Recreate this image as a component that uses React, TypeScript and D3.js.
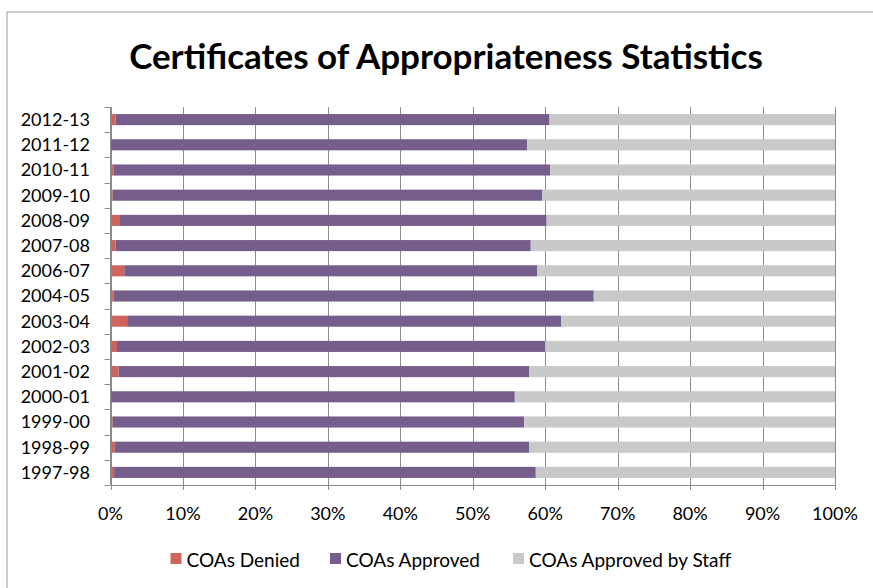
import React from "react";
import * as d3 from "d3";

const categories = [
  "2012-13", "2011-12", "2010-11", "2009-10", "2008-09", "2007-08", "2006-07",
  "2004-05", "2003-04", "2002-03", "2001-02", "2000-01", "1999-00", "1998-99", "1997-98",
];
const denied = [0.7, 0.1, 0.4, 0.3, 1.2, 0.7, 1.9, 0.4, 2.3, 0.9, 1.1, 0.1, 0.3, 0.6, 0.5];
const approved = [59.9, 57.4, 60.3, 59.3, 59.0, 57.3, 57.0, 66.3, 59.9, 59.1, 56.7, 55.7, 56.8, 57.2, 58.2];
const approvedByStaff = approved.map((a, i) => +(100 - a - denied[i]).toFixed(1));
const xTicks = [0, 10, 20, 30, 40, 50, 60, 70, 80, 90, 100];
const seriesNames = ["COAs Denied", "COAs Approved", "COAs Approved by Staff"];
const colors = ["#d0645c", "#755d8c", "#c9c9c9"];

const W = 873, H = 588;
const left = 110.5, right = 835, top = 107, bottom = 485;
const FONT = "Lato, 'Open Sans', sans-serif";

export default function App() {
  const x = d3.scaleLinear().domain([0, 100]).range([left, right]);
  const y = d3.scaleBand<string>().domain(categories).range([top, bottom]).paddingInner(0.56).paddingOuter(0.28);
  const step = y.step();
  const rows = categories.map((c, i) => ({ c, 0: denied[i], 1: approved[i], 2: approvedByStaff[i] }));
  const stack = d3.stack<any>().keys(["0", "1", "2"])(rows);
  const legendX = [170.5, 330, 513];

  return (
    <svg width={W} height={H} style={{ position: "absolute", left: 0, top: 0, background: "#fff" }} fontFamily={FONT}>
      <rect x={7} y={12} width={W} height={H} fill="#fff" stroke="#9a9a9a" strokeWidth={1} />
      <text x={446} y={69} textAnchor="middle" fontSize={35} fontWeight="bold" fill="#000">
        Certificates of Appropriateness Statistics
      </text>
      {/* gridlines */}
      {xTicks.map((t) => (
        <line key={"g" + t} x1={Math.round(x(t)) + 0.5} x2={Math.round(x(t)) + 0.5} y1={top} y2={bottom + 5} stroke="#8c8c8c" strokeWidth={1} />
      ))}
      {/* bars */}
      {stack.map((s, si) =>
        s.map((d, i) => (
          <rect
            key={si + "-" + i}
            x={x(d[0])}
            y={y(categories[i])!}
            width={Math.max(0, x(d[1]) - x(d[0]))}
            height={y.bandwidth()}
            fill={colors[si]}
          />
        ))
      )}
      {/* y axis */}
      <line x1={left} x2={left} y1={top} y2={bottom} stroke="#8c8c8c" />
      {d3.range(categories.length + 1).map((k) => (
        <line key={"yt" + k} x1={left - 6} x2={left} y1={Math.round(top + k * step) + 0.5} y2={Math.round(top + k * step) + 0.5} stroke="#8c8c8c" />
      ))}
      {categories.map((c) => (
        <text key={c} x={90} y={y(c)! + y.bandwidth() / 2} dy="0.36em" textAnchor="end" fontSize={18} fill="#000">
          {c}
        </text>
      ))}
      {/* x axis */}
      <line x1={left} x2={right} y1={bottom + 0.5} y2={bottom + 0.5} stroke="#8c8c8c" />
      {xTicks.map((t) => (
        <text key={"xl" + t} x={x(t)} y={520} textAnchor="middle" fontSize={18} fill="#000">
          {t}%
        </text>
      ))}
      {/* legend */}
      {seriesNames.map((n, i) => (
        <g key={n}>
          <rect x={legendX[i]} y={553} width={11} height={11} fill={colors[i]} />
          <text x={legendX[i] + 16} y={567} fontSize={19} fill="#000">
            {n}
          </text>
        </g>
      ))}
    </svg>
  );
}
